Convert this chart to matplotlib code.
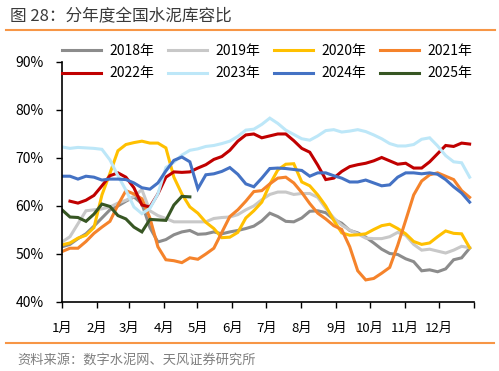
import numpy as np
import matplotlib.pyplot as plt

plt.rcParams["font.family"] = ["Noto Sans CJK SC", "DejaVu Sans"]
plt.rcParams["axes.unicode_minus"] = False

# weekly readings of the storage ratio (%), one value per week
y2018 = [51.5, 52.0, 53.2, 54.2, 55.8, 57.5, 59.2, 60.0, 61.0, 61.9, 60.5, 55.5, 52.5,
         53.0, 54.0, 54.6, 54.9, 54.1, 54.2, 54.6, 54.2, 54.6, 54.9, 55.3, 55.8, 56.9,
         58.5, 57.8, 56.8, 56.7, 57.5, 58.9, 59.0, 58.6, 57.2, 56.4, 54.9, 54.4, 53.5,
         52.3, 51.0, 50.1, 49.9, 49.0, 48.4, 46.5, 46.7, 46.3, 46.9, 48.8, 49.2, 51.2]
y2019 = [52.5, 53.6, 56.3, 59.0, 59.2, 59.4, 59.8, 60.6, 61.2, 62.0, 63.4, 59.0, 58.0,
         57.4, 56.7, 56.7, 56.7, 56.7, 56.7, 57.4, 57.6, 57.7, 58.2, 59.2, 60.0, 61.3,
         62.4, 62.9, 62.9, 62.4, 62.6, 62.6, 61.8, 59.5, 57.5, 56.0, 55.0, 54.2, 53.3,
         53.2, 53.2, 53.6, 54.5, 53.9, 52.0, 50.8, 51.0, 50.6, 50.2, 50.8, 51.6, 51.3]
y2020 = [51.9, 52.3, 53.3, 53.9, 55.5, 62.3, 66.8, 71.5, 72.8, 73.2, 73.5, 73.1, 73.1,
         72.1, 66.0, 62.5, 59.8, 58.5, 56.6, 55.3, 53.4, 53.5, 54.5, 57.5, 59.0, 60.8,
         64.5, 67.5, 68.7, 68.8, 65.0, 64.2, 62.3, 60.0, 57.0, 54.4, 53.9, 54.0, 54.2,
         55.1, 55.9, 56.2, 55.3, 54.2, 52.6, 52.0, 52.3, 53.6, 54.8, 54.3, 54.2, 51.3]
y2021 = [50.5, 51.2, 51.2, 52.6, 54.3, 55.6, 56.8, 60.2, 63.2, 62.5, 61.5, 57.5, 51.5,
         48.8, 48.6, 48.2, 49.2, 48.9, 50.0, 51.2, 54.5, 57.8, 59.2, 61.0, 63.0, 63.2,
         64.6, 65.8, 66.0, 64.8, 62.8, 60.5, 58.5, 57.3, 55.9, 55.1, 51.5, 46.5, 44.6,
         44.9, 46.0, 47.2, 51.8, 57.0, 62.3, 65.2, 66.5, 66.9, 66.2, 65.5, 63.2, 61.8]
y2022 = [np.nan, 61.0, 60.6, 61.2, 62.2, 64.2, 66.3, 66.9, 66.0, 63.8, 60.2, 59.8, 62.5,
         66.0, 67.1, 67.0, 67.1, 67.9, 68.6, 69.7, 70.3, 71.6, 73.5, 74.8, 75.0, 74.2,
         74.6, 75.0, 75.0, 73.6, 72.0, 71.2, 68.5, 65.5, 65.8, 67.2, 68.2, 68.6, 68.9,
         69.4, 70.1, 69.4, 68.7, 68.9, 67.9, 67.9, 69.2, 70.9, 72.6, 72.4, 73.1, 72.9]
y2023 = [72.3, 72.0, 72.2, 72.1, 72.0, 71.8, 69.6, 66.3, 63.3, 59.8, 58.4, 59.5, 62.5,
         68.0, 69.1, 70.6, 71.6, 71.9, 72.4, 72.6, 73.0, 73.5, 74.5, 75.8, 76.0, 77.0,
         78.3, 77.2, 75.8, 74.9, 74.0, 73.7, 74.6, 75.7, 75.9, 75.4, 75.6, 75.9, 75.5,
         74.8, 74.0, 73.0, 72.5, 72.5, 72.8, 73.9, 74.2, 72.5, 70.5, 69.2, 69.0, 66.0]
y2024 = [66.2, 66.2, 65.6, 66.2, 66.0, 65.4, 65.6, 65.6, 65.5, 64.8, 63.8, 63.5, 64.8,
         67.3, 69.5, 70.2, 69.2, 63.6, 66.5, 66.7, 67.2, 68.0, 66.6, 64.6, 64.0, 65.8,
         67.8, 67.9, 67.8, 67.6, 67.4, 66.2, 66.9, 66.9, 66.3, 65.8, 65.0, 65.0, 65.4,
         64.8, 64.2, 64.4, 66.0, 66.9, 66.9, 66.7, 66.9, 66.6, 65.5, 64.0, 62.7, 60.8]
y2025 = [59.2, 57.7, 57.6, 56.8, 58.3, 60.4, 59.9, 58.0, 57.3, 55.6, 54.6, 57.2, 57.1,
         57.0, 60.2, 62.0, 61.9]

years = ["2018年", "2019年", "2020年", "2021年", "2022年", "2023年", "2024年", "2025年"]
colors = ["#8C8C8C", "#C8C8C8", "#FFC000", "#F5832B", "#C00000", "#BDE7F8", "#4472C4", "#375623"]
series = [y2018, y2019, y2020, y2021, y2022, y2023, y2024, y2025]

month_labels = ["1月", "2月", "3月", "4月", "5月", "6月", "7月", "8月", "9月", "10月", "11月", "12月", ""]
month_start = [0, 31, 59, 90, 120, 151, 181, 212, 243, 273, 304, 334, 365]

fig = plt.figure(figsize=(4.99, 3.71), dpi=100)
ax = fig.add_axes([0.1242, 0.186, 0.8258, 0.647])

lines = []
for name, c, vals in zip(years, colors, series):
    days = np.arange(len(vals)) * 7.08
    ln, = ax.plot(days, vals, color=c, lw=2.2, label=name, solid_joinstyle="miter")
    lines.append(ln)

ax.set_xlim(0, 365)
ax.set_ylim(40, 90)
ax.set_yticks(range(40, 91, 10))
ax.set_yticklabels([f"{v}%" for v in range(40, 91, 10)])
ax.set_xticks(month_start)
ax.set_xticklabels(month_labels)
ax.tick_params(axis="both", direction="out", length=4, width=1, labelsize=10, colors="black")
ax.tick_params(axis="y", pad=9)
ax.tick_params(axis="x", pad=10, labelsize=9.5)
ax.spines["top"].set_visible(False)
ax.spines["right"].set_visible(False)
ax.spines["left"].set_linewidth(1.2)
ax.spines["bottom"].set_linewidth(1.2)

# legend filled column-wise, so reorder to get 2018-2021 on top row
order = [0, 4, 1, 5, 2, 6, 3, 7]
fig.legend([lines[i] for i in order], [years[i] for i in order], ncol=4,
           loc="upper left", bbox_to_anchor=(0.113, 0.897), frameon=False,
           fontsize=10, handlelength=2.8, handletextpad=0.6, columnspacing=1.0,
           labelspacing=0.62, borderaxespad=0)

# title, rules and source note
fig.text(0.02, 0.955, "图 28：分年度全国水泥库容比", fontsize=12, color="#3A3A3A", va="center")
fig.add_artist(plt.Line2D([0.012, 0.992], [0.919, 0.919], color="#F79646", lw=1.5))
fig.add_artist(plt.Line2D([0.012, 0.99], [0.075, 0.075], color="#F79646", lw=1.5))
fig.text(0.034, 0.03, "资料来源：数字水泥网、天风证券研究所", fontsize=9.5, color="#7F7F7F", va="center")

fig.savefig("out.png", dpi=100)
